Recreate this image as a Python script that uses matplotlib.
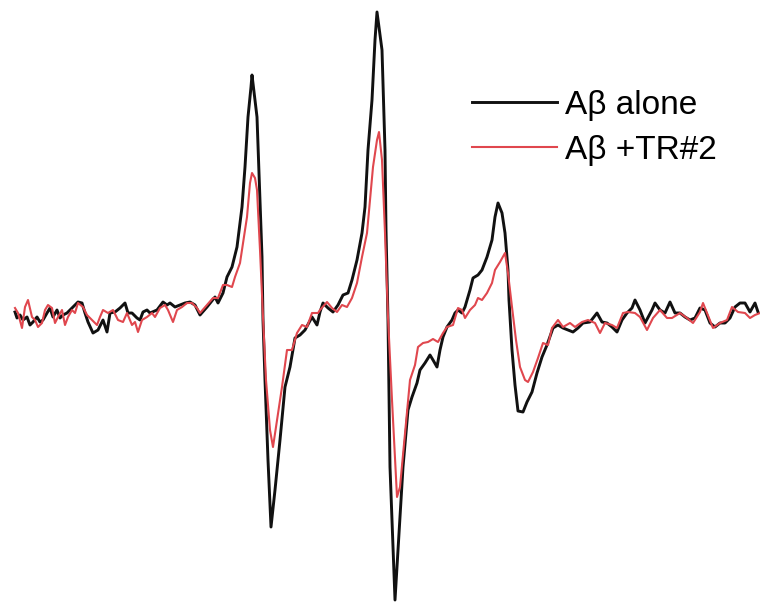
import matplotlib.pyplot as plt

# EPR spectra, values (field axis in arbitrary units,
# signal in arbitrary units, downward positive as in the picture)
field_alone = [15, 17, 20, 23, 27, 30, 33, 37, 40, 43, 47, 50, 53, 57, 60, 63, 67, 70, 73, 78,
               82, 85, 88, 93, 98, 103, 107, 110, 115, 120, 125, 128, 132, 137, 140, 143, 147,
               150, 157, 163, 167, 170, 175, 180, 185, 190, 195,
               200, 207, 215, 218, 223, 227, 232, 237, 242, 245, 248, 251, 252,
               257, 260, 262, 263, 265, 268, 271, 275, 280, 285, 290, 295, 300, 305, 312, 317,
               320, 323, 328, 333, 338, 343, 348, 352, 357, 362, 365, 368, 372, 375, 377,
               382, 385, 386, 388, 390, 395, 398, 403, 408, 412, 417, 420, 425, 430, 433, 437,
               440, 443, 447, 452, 455, 458, 462, 465, 470, 473, 478, 482, 487, 492, 495, 498,
               502, 505, 508, 509, 512, 515, 518, 523, 527, 532, 537, 542, 547,
               553, 558, 563, 568, 573, 578, 583, 590, 597, 602, 607, 612, 617, 622, 627, 632,
               635, 640, 645, 652, 655, 660, 665, 670, 675, 680, 685, 690, 695, 700, 705, 710,
               715, 720, 725, 730, 735, 740, 745, 750, 755, 758]
signal_alone = [312, 318, 315, 320, 317, 325, 322, 317, 322, 320, 313, 308, 317, 310, 318, 315,
                313, 310, 307, 302, 303, 313, 322, 333, 330, 320, 332, 313, 312, 308, 303, 313,
                313, 318, 320, 312, 310, 313, 310, 302, 305, 303, 307, 305, 303, 302, 305,
                315, 307, 297, 303, 293, 277, 267, 247, 207, 167, 117, 87, 75,
                117, 200, 257, 320, 380, 460, 527, 490, 440, 387, 367, 338, 335, 330, 317, 325,
                312, 303, 308, 312, 305, 295, 293, 280, 260, 233, 207, 150, 100, 40, 12,
                50, 150, 230, 320, 467, 600, 550, 467, 410, 397, 383, 370, 363, 355, 360, 367,
                350, 337, 327, 320, 313, 310, 313, 307, 290, 278, 275, 270, 257, 240, 217, 203,
                213, 233, 270, 300, 350, 385, 411, 412, 402, 392, 373, 357, 345,
                328, 325, 328, 330, 332, 328, 323, 322, 313, 322, 323, 327, 332, 320, 313, 308,
                300, 310, 323, 310, 303, 310, 313, 302, 313, 313, 317, 320, 318, 308, 310, 323,
                327, 323, 323, 318, 307, 303, 303, 312, 303, 312]

field_tr2 = [15, 18, 22, 25, 28, 32, 35, 38, 42, 45, 48, 52, 55, 58, 62, 65, 68, 72, 75, 78,
             83, 87, 92, 97, 100, 103, 108, 113, 118, 123, 127, 132, 135, 138, 142, 147, 152,
             155, 160, 165, 168, 173, 177, 182, 187, 192, 197,
             200, 207, 213, 218, 223, 227, 232, 235, 240, 243, 247, 250, 252,
             255, 257, 260, 263, 266, 270, 273, 277, 282, 287, 292, 297, 302, 307, 312, 318,
             320, 327, 332, 337, 342, 347, 352, 357, 362, 367, 370, 373, 377, 379,
             382, 385, 388, 392, 397, 400, 405, 410, 415, 418, 423, 428, 433, 438,
             443, 447, 453, 458, 462, 465, 470, 475, 478, 482, 487, 492, 495, 500, 505,
             508, 512, 516, 520, 525, 528, 533, 538, 543, 548,
             552, 558, 563, 570, 575, 582, 588, 595, 600, 605, 612, 617, 623, 628, 635, 640,
             647, 653, 660, 667, 672, 680, 687, 693, 700, 703, 707, 713, 720, 727, 732, 738,
             745, 750, 755, 760]
signal_tr2 = [308, 313, 328, 307, 300, 317, 320, 327, 323, 310, 305, 308, 323, 317, 310, 325,
              317, 310, 313, 303, 307, 315, 320, 325, 317, 310, 313, 310, 320, 322, 313, 325,
              322, 332, 320, 317, 313, 317, 308, 305, 310, 322, 310, 307, 303, 303, 308,
              313, 305, 298, 298, 285, 285, 287, 277, 263, 243, 217, 183, 173,
              178, 190, 250, 317, 380, 430, 447, 420, 387, 350, 350, 333, 325, 327, 313, 313,
              310, 302, 308, 312, 305, 307, 298, 283, 257, 233, 200, 167, 140, 132,
              160, 233, 317, 400, 497, 487, 433, 380, 365, 347, 343, 342, 339, 342,
              333, 327, 325, 308, 310, 318, 310, 305, 298, 300, 293, 283, 270, 262, 253,
              273, 307, 340, 367, 380, 382, 372, 358, 343, 345,
              328, 320, 327, 323, 327, 322, 320, 323, 333, 323, 325, 328, 313, 312, 313, 317,
              330, 318, 310, 318, 318, 313, 318, 323, 312, 303, 313, 328, 323, 320, 307, 312,
              313, 318, 315, 313]

labels = ['A\u03b2 alone', 'A\u03b2 +TR#2']
colors = ['#111111', '#e0474e']

plt.rcParams['font.family'] = ['Liberation Sans', 'DejaVu Sans']

fig = plt.figure(figsize=(7.6, 6.04), dpi=100)
ax = fig.add_axes([0, 0, 1, 1])

ax.plot(field_alone, signal_alone, color=colors[0], linewidth=2.1, label=labels[0], zorder=2)
ax.plot(field_tr2, signal_tr2, color=colors[1], linewidth=1.5, label=labels[1], zorder=3)

ax.set_xlim(0, 760)
ax.set_ylim(604, 0)
ax.axis('off')

ax.legend(loc='upper left', bbox_to_anchor=(472 / 760, 1 - 90 / 604), frameon=False,
          fontsize=24, handlelength=2.55, handletextpad=0.25, labelspacing=0.42,
          borderpad=0, borderaxespad=0)

plt.savefig('out.png', dpi=100)
